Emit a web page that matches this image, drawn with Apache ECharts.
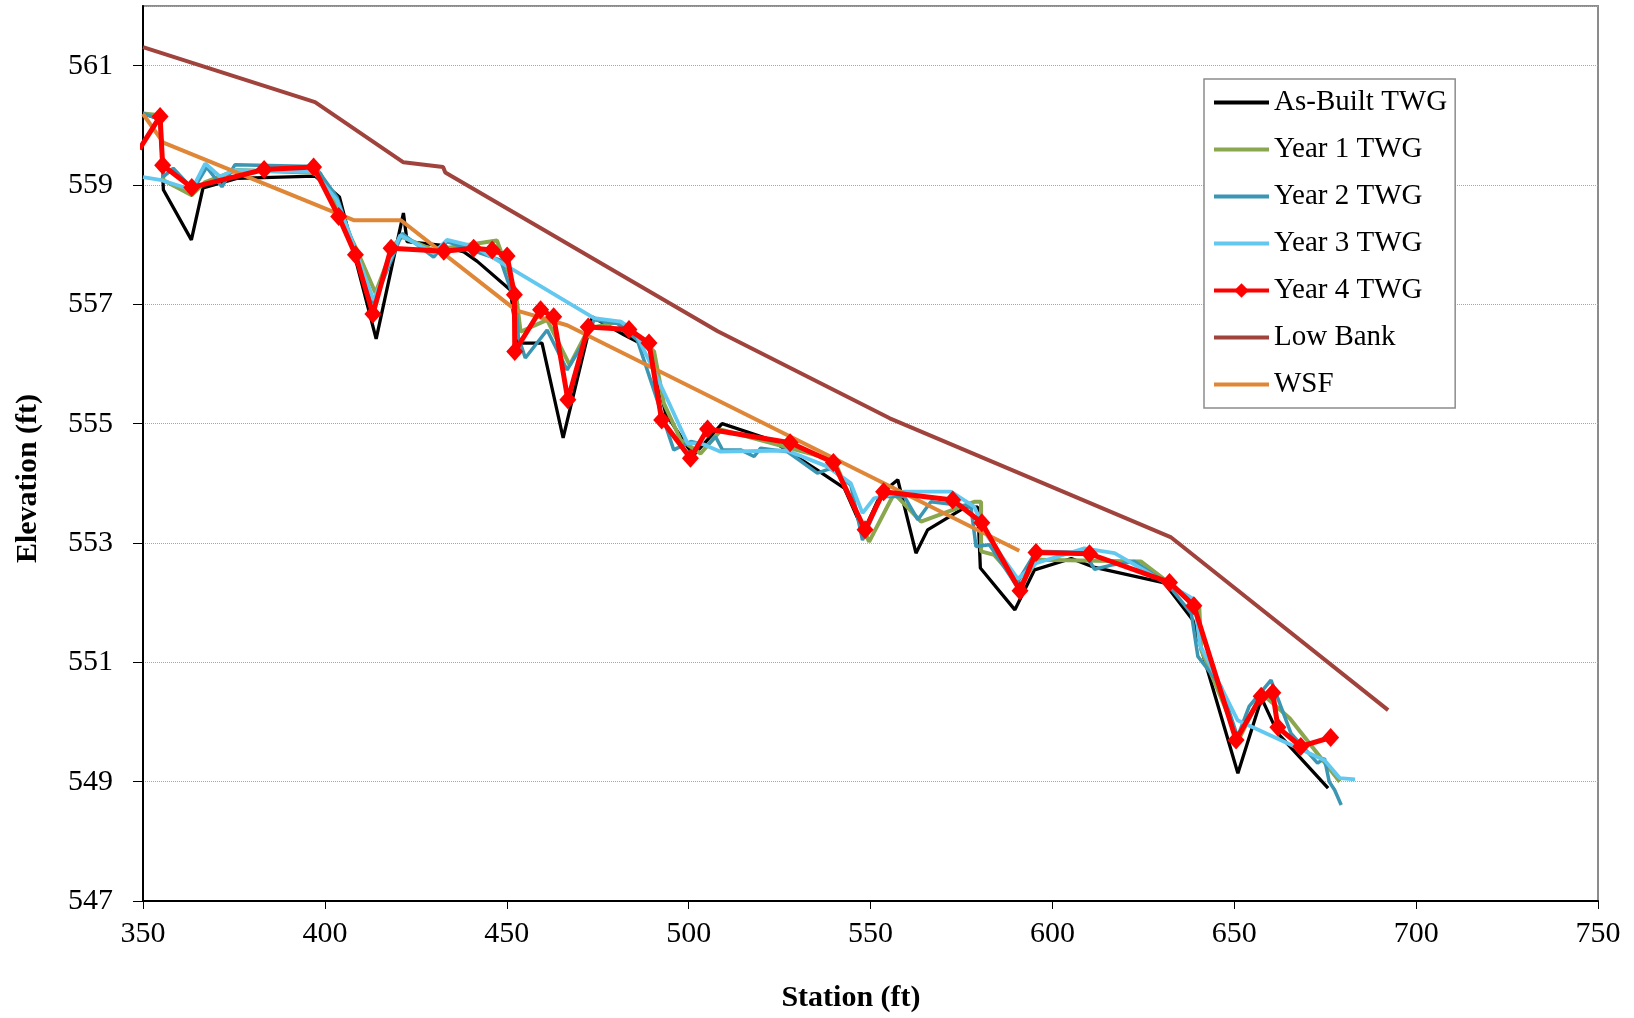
<!DOCTYPE html>
<html>
<head>
<meta charset="utf-8">
<script src="https://cdn.jsdelivr.net/npm/echarts@6/dist/echarts.min.js"></script>
<style>html,body{margin:0;padding:0;background:#fff;}#chart{width:1634px;height:1018px;}</style>
</head>
<body>
<div id="chart"></div>
<script>
const seriesNames = ['As-Built TWG','Year 1 TWG','Year 2 TWG','Year 3 TWG','Year 4 TWG','Low Bank','WSF'];

const asBuiltStation = [350,354.8,355.6,363.3,366.5,375.8,397.3,404,414.1,421.6,422.6,431.7,438.2,441.9,451,452.9,459.7,465.5,473.5,482.2,489.5,493.7,499.7,501.5,509.2,522.6,535.4,542.8,548.1,552.9,557.5,562.5,565.7,576.3,579.5,580.2,589.7,595.1,605.2,611.6,630.8,638.6,651,657.5,662,675.8];
const asBuiltElev = [560.2,560.1,558.92,558.08,558.95,559.11,559.15,558.8,556.42,558.53,558.05,557.99,557.88,557.72,557.24,556.35,556.35,554.76,556.79,556.49,556.26,555.17,554.61,554.48,555.0,554.73,554.22,553.92,553.19,553.83,554.06,552.83,553.22,553.61,553.6,552.58,551.88,552.55,552.74,552.59,552.33,551.71,549.14,550.40,549.81,548.89];

const year1Station = [350,354.7,355.6,363.4,367.1,375.8,398.7,408.8,413.9,418.9,421.2,429.9,447.3,452.5,453.8,461.1,467.3,472.6,481.3,490.5,493.2,497.8,503.3,509,540,549.6,556.5,563.9,578.5,580.4,580.4,584,591.2,596,624.4,630.8,640.4,640.9,651.2,657.5,665.3,679];
const year1Elev = [560.2,560.17,559.08,558.83,559.05,559.25,559.2,557.91,557.19,557.99,558.13,557.91,558.07,557.2,556.54,556.74,555.98,556.6,556.71,556.21,555.34,554.73,554.5,554.9,554.39,553.02,553.83,553.36,553.69,553.69,552.86,552.8,552.3,552.72,552.69,552.39,551.91,551.21,549.7,550.48,550.06,549.0];

const year2Station = [350,354.6,355.6,358.3,363.8,367.5,371.7,375.3,397.3,403.3,413.4,419.4,421.2,429.9,433.6,448.3,452.5,453.2,455.1,461.1,466.6,472.1,474,480.4,485.9,495.9,500.6,505.2,507.4,509.3,514.3,518,519.8,527.2,535.4,539.1,544.6,547.8,552.9,559.3,563,566.6,577.6,579,582.7,590,595.5,608.8,611.6,616.2,622.6,631.8,638.2,640,646.4,650.9,654.1,660.1,665.6,672.9,674.8,676.1,677.6,679.4];
const year2Elev = [560.2,560.1,559.14,559.28,558.92,559.3,558.97,559.34,559.31,558.8,557.02,557.91,558.19,557.79,558.05,557.74,557.0,556.45,556.1,556.57,555.9,556.46,556.74,556.68,556.40,554.56,554.70,554.64,554.78,554.56,554.56,554.45,554.59,554.53,554.17,554.25,553.97,553.05,553.78,553.78,553.39,553.69,553.61,552.94,552.97,552.3,552.86,552.84,552.56,552.63,552.69,552.3,551.82,551.1,550.59,549.75,550.26,550.7,549.81,549.31,549.39,549.0,548.86,548.61];

const year3Station = [350,355.1,363.4,367.1,371.2,374.9,396.9,403.3,413.4,420.7,429.9,433.6,441,474,481.3,485,489.5,494.2,499.7,503.3,508.8,527,538.2,544.6,547.8,551,559.3,572.1,578.5,582.2,590.5,595.5,608.8,617.1,639.1,640.5,650.9,674.8,679,683.2];
const year3Elev = [559.13,559.08,558.92,559.36,559.14,559.25,559.22,558.75,557.07,558.16,557.86,558.08,557.97,556.77,556.71,556.57,556.01,555.4,554.67,554.67,554.53,554.55,554.28,554.0,553.5,553.75,553.86,553.86,553.61,553.11,552.4,552.66,552.91,552.83,552.05,551.3,550.03,549.36,549.06,549.04];

const year4Station = [349,354.7,355.4,363.4,383.3,396.9,403.8,408.4,413.2,418.2,432.7,440.9,446,450.1,452.1,452.2,459.3,462.9,466.8,472.4,483.6,489.1,492.6,500.5,505.2,527.9,539.8,548.5,553.6,572.6,580.6,591.1,595.5,610.2,632.2,638.9,650.5,657.4,660.6,662,668.3,676.5];
const year4Elev = [559.6,560.15,559.33,558.96,559.26,559.30,558.47,557.83,556.84,557.94,557.89,557.94,557.91,557.81,557.16,556.21,556.91,556.79,555.40,556.62,556.58,556.35,555.06,554.42,554.91,554.68,554.35,553.22,553.86,553.72,553.34,552.20,552.84,552.82,552.34,551.95,549.70,550.43,550.49,549.91,549.59,549.74];

const lowBankStation = [350,397.3,421.6,432.5,433.1,508,555.3,632.5,692.3];
const lowBankElev = [561.31,560.39,559.38,559.30,559.21,556.55,555.09,553.1,550.2];

const wsfStation = [350,355.6,407.9,420.9,452.6,466.6,590.9];
const wsfElev = [560.19,559.71,558.41,558.41,556.9,556.65,552.87];

const xTicks = [350,400,450,500,550,600,650,700,750];
const yTicks = [547,549,551,553,555,557,559,561];

function zip(xs, ys) { return xs.map((x, i) => [x, ys[i]]); }

const FONT = '"Liberation Serif", "Times New Roman", serif';
const chart = echarts.init(document.getElementById('chart'), null, {renderer: 'canvas'});

function lineSeries(name, xs, ys, color, width, z, extra) {
  return Object.assign({
    name: name, type: 'line', data: zip(xs, ys), showSymbol: false, symbol: 'none',
    lineStyle: {color: color, width: width}, itemStyle: {color: color},
    z: z, clip: true, animation: false
  }, extra || {});
}

const legendData = seriesNames.map(n => n === 'Year 4 TWG'
  ? {name: n}
  : {name: n, itemStyle: {opacity: 0}});

chart.setOption({
  animation: false,
  backgroundColor: '#fff',
  textStyle: {fontFamily: FONT, color: '#000'},
  grid: {left: 143, right: 36, top: 6, bottom: 117, show: true, borderColor: '#8c8c8c', borderWidth: 2, backgroundColor: 'transparent'},
  legend: {
    orient: 'vertical', left: 1204, top: 79,
    data: legendData,
    backgroundColor: '#fff', borderColor: '#8c8c8c', borderWidth: 1.5,
    padding: [9, 8, 9, 8], itemGap: 18, itemWidth: 55, itemHeight: 18, itemTextGap: 5,
    lineStyle: {width: 4},
    textStyle: {fontFamily: FONT, fontSize: 29, color: '#000'}
  },
  xAxis: {
    type: 'value', min: 350, max: 750, interval: 50,
    name: 'Station (ft)', nameLocation: 'middle', nameGap: 82,
    nameTextStyle: {fontFamily: FONT, fontSize: 30, fontWeight: 'bold', color: '#000', padding: [0, 39, 0, 0]},
    axisLine: {show: true, onZero: false, lineStyle: {color: '#000', width: 2}},
    axisTick: {show: true, length: 8, lineStyle: {color: '#000', width: 1}},
    axisLabel: {margin: 18, fontFamily: FONT, fontSize: 30, color: '#000',
      formatter: v => xTicks.includes(v) ? String(v) : ''},
    splitLine: {show: false}
  },
  yAxis: {
    type: 'value', min: 547, max: 562, interval: 2,
    name: 'Elevation (ft)', nameLocation: 'middle', nameGap: 100, nameRotate: 90,
    nameTextStyle: {fontFamily: FONT, fontSize: 30, fontWeight: 'bold', color: '#000', padding: [0, 50, 0, 0]},
    axisLine: {show: true, onZero: false, lineStyle: {color: '#000', width: 2}},
    axisTick: {show: true, length: 10, lineStyle: {color: '#000', width: 1}},
    axisLabel: {margin: 30, fontFamily: FONT, fontSize: 30, color: '#000', showMaxLabel: false,
      formatter: v => yTicks.includes(v) ? String(v) : ''},
    splitLine: {show: true, lineStyle: {color: '#a6a6a6', width: 1, type: 'dotted'}}
  },
  series: [
    lineSeries(seriesNames[0], asBuiltStation, asBuiltElev, '#000000', 3.3, 2),
    lineSeries(seriesNames[1], year1Station, year1Elev, '#8aa64f', 4, 3),
    lineSeries(seriesNames[2], year2Station, year2Elev, '#3a96b3', 3.5, 4),
    lineSeries(seriesNames[3], year3Station, year3Elev, '#63c8f0', 3.8, 5),
    lineSeries(seriesNames[4], year4Station, year4Elev, '#ff0000', 5, 8, {
      showSymbol: true, symbol: 'diamond', symbolSize: [17, 19],
      itemStyle: {color: '#ff0000', borderWidth: 0}
    }),
    lineSeries(seriesNames[5], lowBankStation, lowBankElev, '#a1433d', 4, 6),
    lineSeries(seriesNames[6], wsfStation, wsfElev, '#df8637', 4, 7)
  ]
});
</script>
</body>
</html>
